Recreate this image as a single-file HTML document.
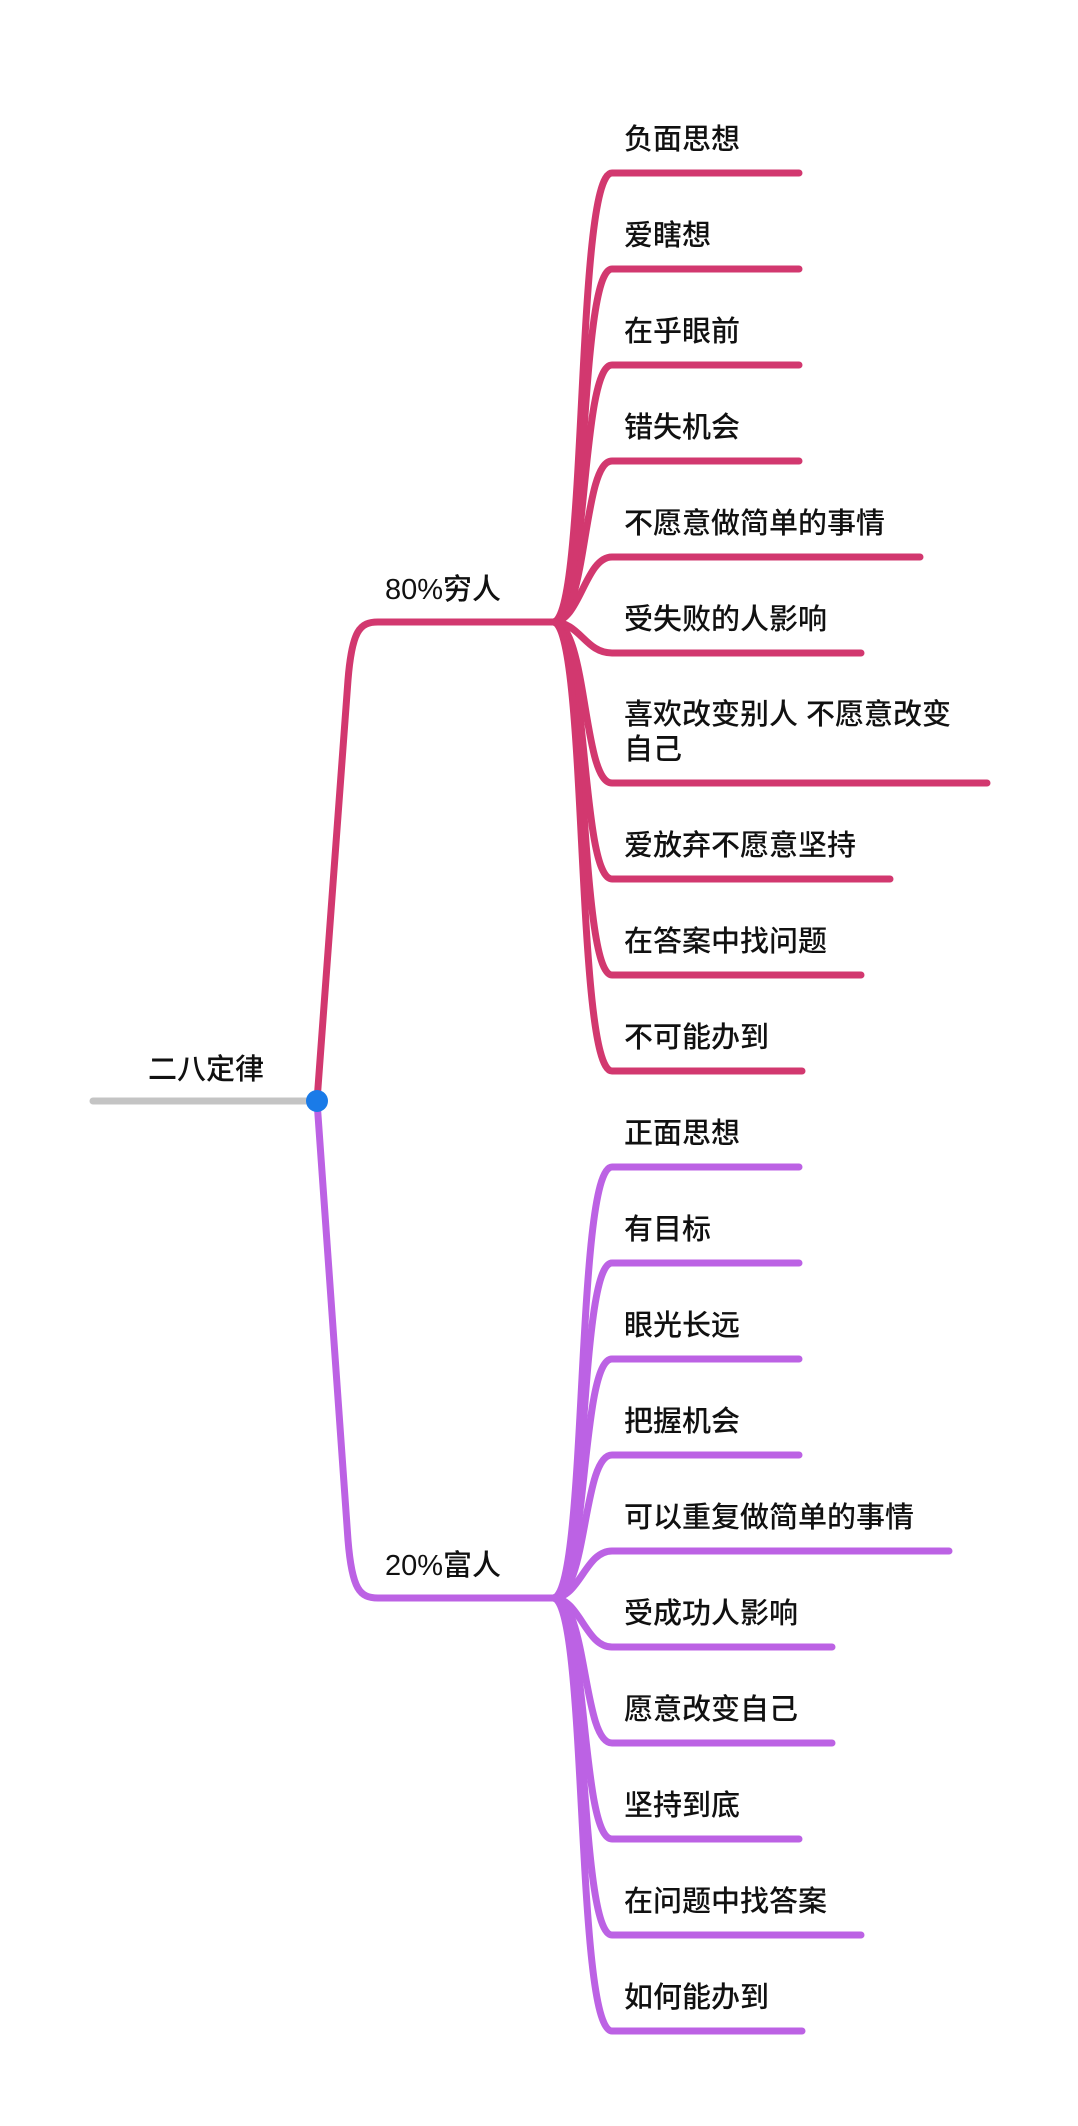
<!DOCTYPE html>
<html><head><meta charset="utf-8"><style>
html,body{margin:0;padding:0;background:#fff;}
svg{display:block}
text{font-family:"Liberation Sans","Noto Sans CJK SC",sans-serif;font-size:29px;font-weight:500;fill:#111;dominant-baseline:central;}
</style></head><body>
<svg width="1078" height="2126" viewBox="0 0 1078 2126" xmlns="http://www.w3.org/2000/svg">
<g fill="none" stroke-linecap="round" stroke-width="7">
<line x1="93" y1="1101" x2="317" y2="1101" stroke="#c4c4c4"/>
<path d="M317 1101 L 348 680 C 352 630, 360 622, 378 622 L 553 622" stroke="#d2386f"/>
<path d="M317 1101 L 348 1540 C 352 1590, 360 1598, 378 1598 L 553 1598" stroke="#bc62e4"/>
<g stroke="#d2386f">
<path d="M553 622 C 588 622, 575 173, 612 173 L 799 173"/>
<path d="M553 622 C 588 622, 578 269, 612 269 L 799 269"/>
<path d="M553 622 C 588 622, 580 365, 612 365 L 799 365"/>
<path d="M553 622 C 588 622, 582 461, 612 461 L 799 461"/>
<path d="M553 622 C 580 622, 585 557, 612 557 L 920 557"/>
<path d="M553 622 C 580 622, 585 653, 612 653 L 861 653"/>
<path d="M553 622 C 588 622, 582 783, 612 783 L 987 783"/>
<path d="M553 622 C 588 622, 580 879, 612 879 L 890 879"/>
<path d="M553 622 C 588 622, 578 975, 612 975 L 861 975"/>
<path d="M553 622 C 588 622, 575 1071, 612 1071 L 802 1071"/>
</g>
<g stroke="#bc62e4">
<path d="M553 1598 C 588 1598, 575 1167, 612 1167 L 799 1167"/>
<path d="M553 1598 C 588 1598, 578 1263, 612 1263 L 799 1263"/>
<path d="M553 1598 C 588 1598, 580 1359, 612 1359 L 799 1359"/>
<path d="M553 1598 C 588 1598, 582 1455, 612 1455 L 799 1455"/>
<path d="M553 1598 C 580 1598, 585 1551, 612 1551 L 949 1551"/>
<path d="M553 1598 C 580 1598, 585 1647, 612 1647 L 832 1647"/>
<path d="M553 1598 C 588 1598, 582 1743, 612 1743 L 832 1743"/>
<path d="M553 1598 C 588 1598, 580 1839, 612 1839 L 799 1839"/>
<path d="M553 1598 C 588 1598, 578 1935, 612 1935 L 861 1935"/>
<path d="M553 1598 C 588 1598, 575 2031, 612 2031 L 802 2031"/>
</g>
</g>
<circle cx="317" cy="1101" r="11" fill="#1a7be8"/>
<text x="148" y="1070">二八定律</text>
<text x="385" y="590">80%穷人</text>
<text x="385" y="1566">20%富人</text>
<text x="624" y="140">负面思想</text>
<text x="624" y="236">爱瞎想</text>
<text x="624" y="332">在乎眼前</text>
<text x="624" y="428">错失机会</text>
<text x="624" y="524">不愿意做简单的事情</text>
<text x="624" y="620">受失败的人影响</text>
<text x="624" y="715">喜欢改变别人 不愿意改变</text>
<text x="624" y="750">自己</text>
<text x="624" y="846">爱放弃不愿意坚持</text>
<text x="624" y="942">在答案中找问题</text>
<text x="624" y="1038">不可能办到</text>
<text x="624" y="1134">正面思想</text>
<text x="624" y="1230">有目标</text>
<text x="624" y="1326">眼光长远</text>
<text x="624" y="1422">把握机会</text>
<text x="624" y="1518">可以重复做简单的事情</text>
<text x="624" y="1614">受成功人影响</text>
<text x="624" y="1710">愿意改变自己</text>
<text x="624" y="1806">坚持到底</text>
<text x="624" y="1902">在问题中找答案</text>
<text x="624" y="1998">如何能办到</text>
</svg>
</body></html>
